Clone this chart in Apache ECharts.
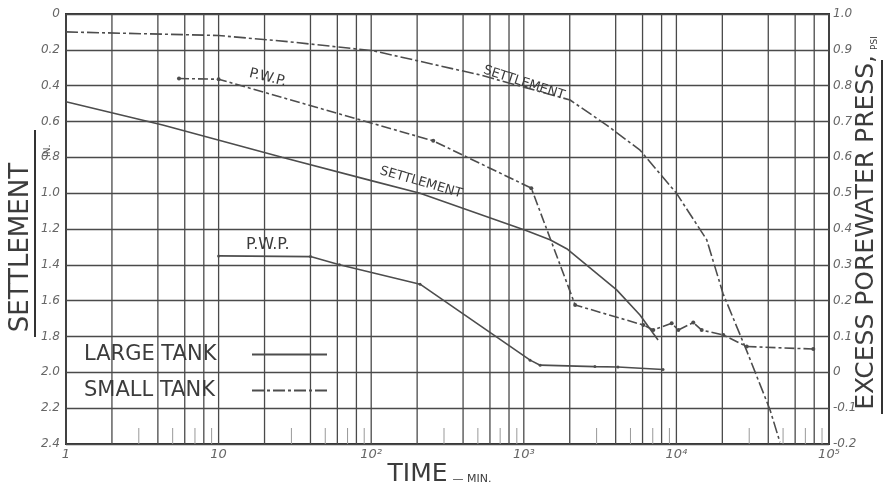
<!DOCTYPE html>
<html>
<head>
<meta charset="utf-8">
<title>Settlement and excess porewater pressure vs time</title>
<script src="https://cdn.jsdelivr.net/npm/echarts@6/dist/echarts.min.js"></script>
<style>
  html, body { margin: 0; padding: 0; background: #fff; }
  #chart { width: 884px; height: 486px; }
</style>
</head>
<body>
<div id="chart"></div>
<script>
const FONT = 'DejaVu Sans'
const INK = '#3c3c3c'

// time axis (minutes, log scale)
const xTickLabels = ['1', '10', '10²', '10³', '10⁴', '10⁵']
const decadeStarts = [1, 10, 100, 1000, 10000]
const gridSteps = [1, 2, 4, 6, 8]     // full height lines in each decade
const shortTickSteps = [3, 5, 7, 9]   // short marks at the foot of each decade

const leftTickLabels = ['0', '0.2', '0.4', '0.6', '0.8', '1.0', '1.2', '1.4', '1.6', '1.8', '2.0', '2.2', '2.4']
const rightTickLabels = ['-0.2', '-0.1', '0', '0.1', '0.2', '0.3', '0.4', '0.5', '0.6', '0.7', '0.8', '0.9', '1.0']

const legendNames = ['LARGE TANK', 'SMALL TANK']

// large tank - settlement, in.
const largeSettleTime = [1, 4.3, 26, 100, 209, 1045, 1485, 1910, 4060, 5770, 7580]
const largeSettleIn = [0.49, 0.62, 0.80, 0.93, 1.00, 1.21, 1.26, 1.31, 1.54, 1.68, 1.82]

// small tank - settlement, in.
const smallSettleTime = [1, 10, 29, 103, 516, 2010, 3490, 5780, 10000, 15800, 20200, 28900, 41100, 47700]
const smallSettleIn = [0.10, 0.12, 0.155, 0.205, 0.34, 0.48, 0.62, 0.76, 1.00, 1.26, 1.56, 1.88, 2.21, 2.39]

// large tank - excess porewater pressure, psi
const largePwpTime = [10, 40, 62, 209, 1100, 1280, 2925, 4140, 8170]
const largePwpPsi = [0.325, 0.323, 0.30, 0.246, 0.034, 0.02, 0.016, 0.015, 0.008]

// small tank - excess porewater pressure, psi
const smallPwpTime = [5.5, 10, 255, 1120, 2170, 6070, 7060, 9310, 10300, 12900, 14650, 20300, 28900, 78900]
const smallPwpPsi = [0.82, 0.818, 0.646, 0.514, 0.188, 0.132, 0.118, 0.137, 0.118, 0.139, 0.118, 0.104, 0.072, 0.065]

// curve annotations: text, time, value
const noteLargeSettle = ['SETTLEMENT', 212, 0.94]
const noteSmallSettle = ['SETTLEMENT', 1003, 0.385]
const noteLargePwp = ['P.W.P.', 21, 0.355]
const noteSmallPwp = ['P.W.P.', 21, 0.822]

const zip = (xs, ys) => xs.map((x, i) => [x, ys[i]])
const gridX = decadeStarts.flatMap(d => gridSteps.map(s => s * d)).concat([100000])
const shortX = decadeStarts.flatMap(d => shortTickSteps.map(s => s * d))

const note = (n, rotate, size) => ({
  silent: true,
  symbol: 'circle',
  symbolSize: 0,
  label: { show: true, formatter: n[0], rotate: rotate, fontSize: size, color: INK, fontFamily: FONT },
  data: [{ coord: [n[1], n[2]] }]
})

const tickLabel = { fontStyle: 'italic', fontSize: 12, color: '#666', fontFamily: FONT }

const chart = echarts.init(document.getElementById('chart'))
const option = {
  animation: false,
  backgroundColor: '#fff',
  textStyle: { fontFamily: FONT },
  grid: {
    left: 66, right: 55, top: 14, bottom: 42,
    show: true, borderColor: '#333', borderWidth: 2, backgroundColor: 'transparent',
    containLabel: false, outerBoundsMode: 'none'
  },
  legend: {
    data: legendNames,
    left: 84, top: 344, orient: 'vertical', align: 'right', padding: 0,
    itemWidth: 75, itemHeight: 14, itemGap: 15, selectedMode: false,
    itemStyle: { opacity: 0 },
    formatter: '{t|{name}}',
    textStyle: { rich: { t: { width: 163, align: 'left', fontSize: 21, lineHeight: 20, color: INK, fontFamily: FONT } } }
  },
  xAxis: {
    type: 'log', logBase: 10, min: 1, max: 100000,
    name: '{a|TIME}{b|— MIN.}', nameLocation: 'middle', nameGap: 18, nameMoveOverlap: false,
    nameTextStyle: {
      padding: [0, 16, 0, 0],
      rich: {
        a: { fontSize: 25, color: INK, fontFamily: FONT, verticalAlign: 'bottom' },
        b: { fontSize: 11, color: INK, fontFamily: FONT, verticalAlign: 'bottom', padding: [0, 0, 2, 5] }
      }
    },
    axisLine: { show: false }, axisTick: { show: false }, splitLine: { show: false },
    axisLabel: { margin: 4, fontSize: 13, fontStyle: 'italic', color: '#666', fontFamily: FONT, formatter: v => xTickLabels[Math.round(Math.log10(v))] }
  },
  yAxis: [
    {
      type: 'value', inverse: true, min: 0, max: 2.4, interval: 0.2,
      name: '{a|SETTLEMENT}{b|IN.}', nameLocation: 'middle', nameRotate: 90, nameGap: 14, nameMoveOverlap: false,
      nameTextStyle: {
        padding: [0, 19, 0, 0],
        rich: {
          a: { fontSize: 26, lineHeight: 30, verticalAlign: 'top', color: INK, fontFamily: FONT },
          b: { fontSize: 9, lineHeight: 44, verticalAlign: 'bottom', padding: [0, 0, 0, 6], color: INK, fontFamily: FONT }
        }
      },
      axisLine: { show: false }, axisTick: { show: false },
      splitLine: { show: true, lineStyle: { color: '#4a4a4a', width: 1.3 } },
      axisLabel: Object.assign({ margin: 6, formatter: v => leftTickLabels[Math.round(v / 0.2)] }, tickLabel)
    },
    {
      type: 'value', position: 'right', min: -0.2, max: 1.0, interval: 0.1,
      name: '{a|EXCESS POREWATER PRESS,}{b|PSI}', nameLocation: 'middle', nameRotate: 90, nameGap: 25, nameMoveOverlap: false,
      nameTextStyle: {
        padding: [0, 0, 0, 12],
        rich: {
          a: { fontSize: 25, verticalAlign: 'bottom', color: INK, fontFamily: FONT },
          b: { fontSize: 9, verticalAlign: 'bottom', padding: [0, 0, 0, 5], color: INK, fontFamily: FONT }
        }
      },
      axisLine: { show: false }, axisTick: { show: false }, splitLine: { show: false },
      axisLabel: Object.assign({ margin: 4, formatter: v => rightTickLabels[Math.round((v + 0.2) / 0.1)] }, tickLabel)
    }
  ],
  graphic: [
    // underline bars beside the rotated axis titles
    { type: 'line', shape: { x1: 35, y1: 130, x2: 35, y2: 337 }, style: { stroke: '#333', lineWidth: 2 } },
    { type: 'line', shape: { x1: 882, y1: 60, x2: 882, y2: 414 }, style: { stroke: '#333', lineWidth: 2 } }
  ],
  series: [
    {
      name: 'grid',
      type: 'custom',
      silent: true,
      z: 1,
      data: gridX.map(v => [v, 0]),
      encode: { x: 0, y: 1 },
      renderItem (params, api) {
        const top = api.coord([api.value(0), 0])
        const bottom = api.coord([api.value(0), 2.4])
        return { type: 'line', shape: { x1: top[0], y1: top[1], x2: bottom[0], y2: bottom[1] }, style: { stroke: '#4a4a4a', lineWidth: 1.3 } }
      }
    },
    {
      name: 'ticks',
      type: 'custom',
      silent: true,
      z: 1,
      data: shortX.map(v => [v, 2.4]),
      encode: { x: 0, y: 1 },
      renderItem (params, api) {
        const p = api.coord([api.value(0), 2.4])
        return { type: 'line', shape: { x1: p[0], y1: p[1], x2: p[0], y2: p[1] - 16 }, style: { stroke: '#999', lineWidth: 1 } }
      }
    },
    {
      name: 'LARGE TANK',
      type: 'line',
      yAxisIndex: 0,
      z: 3,
      data: zip(largeSettleTime, largeSettleIn),
      symbol: 'none',
      lineStyle: { color: '#4d4d4d', width: 1.6, type: 'solid' },
      itemStyle: { color: '#4d4d4d' },
      markPoint: note(noteLargeSettle, -16, 13)
    },
    {
      name: 'SMALL TANK',
      type: 'line',
      yAxisIndex: 0,
      z: 3,
      data: zip(smallSettleTime, smallSettleIn),
      symbol: 'none',
      lineStyle: { color: '#4d4d4d', width: 1.6, type: [12, 3, 3, 3] },
      itemStyle: { color: '#4d4d4d' },
      markPoint: note(noteSmallSettle, -18, 13)
    },
    {
      name: 'LARGE TANK P.W.P.',
      type: 'line',
      yAxisIndex: 1,
      z: 3,
      data: zip(largePwpTime, largePwpPsi),
      symbol: 'circle',
      symbolSize: 3,
      lineStyle: { color: '#4d4d4d', width: 1.6, type: 'solid' },
      itemStyle: { color: '#4d4d4d' },
      markPoint: note(noteLargePwp, 0, 16)
    },
    {
      name: 'SMALL TANK P.W.P.',
      type: 'line',
      yAxisIndex: 1,
      z: 3,
      data: zip(smallPwpTime, smallPwpPsi),
      symbol: 'circle',
      symbolSize: 4,
      lineStyle: { color: '#4d4d4d', width: 1.6, type: [10, 3, 3, 3] },
      itemStyle: { color: '#4d4d4d' },
      markPoint: note(noteSmallPwp, -14, 14)
    }
  ]
}
chart.setOption(option)
</script>
</body>
</html>
